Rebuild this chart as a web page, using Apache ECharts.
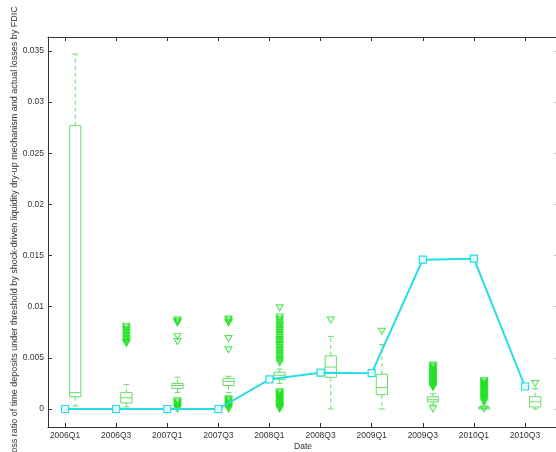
<!DOCTYPE html>
<html><head><meta charset="utf-8">
<script src="https://cdn.jsdelivr.net/npm/echarts@6/dist/echarts.min.js"></script>
<style>html,body{margin:0;padding:0;background:#fff}#c{width:556px;height:452px}</style>
</head><body><div id="c"></div>
<script>
// ---- data ----
const categories = ['2006Q1','2006Q3','2007Q1','2007Q3','2008Q1','2008Q3','2009Q1','2009Q3','2010Q1','2010Q3'];
const yTickValues = [0, 0.005, 0.01, 0.015, 0.02, 0.025, 0.03, 0.035];

// actual losses by FDIC (line)
const fdicLoss = [0, 0, 0, 0, 0.0029, 0.00355, 0.0035, 0.0146, 0.0147, 0.0022];

// box statistics (simulated loss ratio)
const whiskerLow  = [0.0003, 0.0002, 0.0016, 0.0016, 0.0025, 0.0000, 0.0000, 0.0004, 0.0000, 0.0000];
const quartile1   = [0.0012, 0.0006, 0.0020, 0.0023, 0.0029, 0.0031, 0.0014, 0.0007, 0.0000, 0.0002];
const medianVal   = [0.0016, 0.0011, 0.0023, 0.0027, 0.0033, 0.0041, 0.0021, 0.0009, 0.0001, 0.0007];
const quartile3   = [0.0277, 0.0016, 0.0025, 0.0030, 0.0036, 0.0052, 0.0034, 0.0012, 0.0002, 0.0012];
const whiskerHigh = [0.0347, 0.0024, 0.0031, 0.0032, 0.0039, 0.0071, 0.0063, 0.0015, 0.0005, 0.0020];

const outliers = [
  [],
  [0.0081,0.0080,0.0078,0.0077,0.0075,0.0074,0.0072,0.0071,0.0069,0.0068,0.0066,0.0065,0.0064],
  [0.0087,0.0086,0.0085,0.0084,0.0071,0.0066,
   0.0008,0.0007,0.0006,0.0005,0.0004,0.0003,0.0002,0.0001,0.0000],
  [0.0088,0.0087,0.0085,0.0084,0.0069,0.0058,
   0.0010,0.0009,0.0008,0.0007,0.0006,0.0005,0.0004,0.0003,0.0002,0.0001,0.0000],
  [0.0099,0.0090,0.0088,0.0087,0.0085,0.0083,0.0082,0.0080,0.0078,0.0077,0.0075,0.0073,0.0072,0.0070,
   0.0068,0.0067,0.0065,0.0063,0.0062,0.0060,0.0058,0.0057,0.0055,0.0053,0.0052,0.0050,0.0048,0.0047,0.0045,
   0.0017,0.0016,0.0015,0.0014,0.0013,0.0012,0.0011,0.0010,0.0009,0.0008,0.0007,0.0006,0.0005,0.0004,
   0.0003,0.0002,0.0001,0.0000],
  [0.0087],
  [0.0076],
  [0.0043,0.0042,0.0041,0.0040,0.0039,0.0038,0.0037,0.0036,0.0035,0.0034,0.0033,0.0032,0.0031,0.0030,
   0.0029,0.0028,0.0027,0.0026,0.0025,0.0024,0.0023,0.0022,0.0021,0.0000],
  [0.0028,0.0027,0.0026,0.0025,0.0024,0.0023,0.0022,0.0021,0.0020,0.0019,0.0018,0.0017,0.0016,0.0015,
   0.0014,0.0013,0.0012,0.0011,0.0010,0.0009,0.0008,0.0007,0.0000],
  [0.0025]
];

// ---- layout / style constants ----
const X_MIN = 0.667, X_MAX = 10.646;
const Y_MIN = -0.00176, Y_MAX = 0.03637;
const BOX_OFFSET = 0.2, BOX_WIDTH = 0.22;
const BOX_COLOR = '#66de66', OUT_COLOR = '#1ee01e', LINE_COLOR = '#25dde3';
const FONT = "'Liberation Sans', Arial, sans-serif";
const AX = '#333';

const tickPositions = categories.map((c, i) => i + 1);
const boxData = categories.map((c, i) => [i + 1 + BOX_OFFSET, whiskerLow[i], quartile1[i], medianVal[i], quartile3[i], whiskerHigh[i]]);
const outlierData = [];
outliers.forEach((arr, i) => arr.forEach(v => outlierData.push([i + 1 + BOX_OFFSET, v])));
const lineData = fdicLoss.map((v, i) => [i + 1, v]);

const chart = echarts.init(document.getElementById('c'), null, {renderer: 'canvas'});
const fmtY = v => String(+v.toFixed(3));

chart.setOption({
  animation: false,
  backgroundColor: '#fff',
  textStyle: {fontFamily: FONT},
  grid: {left: 48, right: -2, top: 37, bottom: 25, containLabel: false, outerBoundsMode: 'none'},
  xAxis: [{
    type: 'value', position: 'bottom', min: X_MIN, max: X_MAX,
    axisLine: {show: true, onZero: false, lineStyle: {color: AX, width: 1}},
    axisTick: {show: true, inside: true, length: 4, customValues: tickPositions, lineStyle: {color: AX}},
    axisLabel: {customValues: tickPositions, formatter: v => categories[Math.round(v) - 1] || '',
      fontSize: 8.5, color: AX, margin: 4, fontFamily: FONT},
    splitLine: {show: false},
    name: 'Date', nameLocation: 'middle', nameGap: 15, nameMoveOverlap: false,
    nameTextStyle: {fontSize: 8.5, color: AX, fontFamily: FONT}
  }, {
    type: 'value', position: 'top', min: X_MIN, max: X_MAX,
    axisLine: {show: true, onZero: false, lineStyle: {color: AX, width: 1}},
    axisTick: {show: true, inside: true, length: 4, customValues: tickPositions, lineStyle: {color: AX}},
    axisLabel: {show: false}, splitLine: {show: false}
  }],
  yAxis: [{
    type: 'value', position: 'left', min: Y_MIN, max: Y_MAX,
    axisLine: {show: true, onZero: false, lineStyle: {color: AX, width: 1}},
    axisTick: {show: true, inside: true, length: 4, customValues: yTickValues, lineStyle: {color: AX}},
    axisLabel: {customValues: yTickValues, formatter: fmtY, fontSize: 8.5, color: AX, margin: 4, fontFamily: FONT},
    splitLine: {show: false},
    name: 'Loss ratio of time deposits under threshold by shock-driven liquidity dry-up mechanism and actual losses by FDIC',
    nameLocation: 'middle', nameGap: 29, nameMoveOverlap: false,
    nameTextStyle: {fontSize: 9.0, color: AX, fontFamily: FONT}
  }, {
    type: 'value', position: 'right', min: Y_MIN, max: Y_MAX,
    axisLine: {show: true, onZero: false, lineStyle: {color: AX, width: 1}},
    axisTick: {show: true, inside: true, length: 4, customValues: yTickValues, lineStyle: {color: '#bbb'}},
    axisLabel: {show: false}, splitLine: {show: false}
  }],
  series: [{
    type: 'custom', xAxisIndex: 0, yAxisIndex: 0, z: 2,
    data: boxData,
    encode: {x: 0, y: [1, 2, 3, 4, 5]},
    renderItem: function (params, api) {
      const x = api.value(0), wl = api.value(1), q1 = api.value(2), md = api.value(3), q3 = api.value(4), wh = api.value(5);
      const hw = BOX_WIDTH / 2, cw = BOX_WIDTH / 4;
      const p = (a, b) => api.coord([a, b]);
      const tl = p(x - hw, q3), br = p(x + hw, q1);
      const solid = {stroke: BOX_COLOR, fill: null, lineWidth: 1};
      const dashed = {stroke: BOX_COLOR, fill: null, lineWidth: 1, lineDash: [4, 3]};
      const ln = (a, b, st) => ({type: 'line', shape: {x1: a[0], y1: a[1], x2: b[0], y2: b[1]}, style: st});
      return {type: 'group', children: [
        ln(p(x, q3), p(x, wh), dashed),
        ln(p(x, q1), p(x, wl), dashed),
        ln(p(x - cw, wh), p(x + cw, wh), solid),
        ln(p(x - cw, wl), p(x + cw, wl), solid),
        {type: 'rect', shape: {x: tl[0], y: tl[1], width: br[0] - tl[0], height: br[1] - tl[1]}, style: solid},
        ln(p(x - hw, md), p(x + hw, md), solid)
      ]};
    }
  }, {
    type: 'scatter', xAxisIndex: 0, yAxisIndex: 0, z: 3,
    data: outlierData,
    symbol: 'triangle', symbolRotate: 180, symbolSize: [7, 6],
    itemStyle: {color: 'rgba(0,0,0,0)', borderColor: OUT_COLOR, borderWidth: 1}
  }, {
    type: 'line', xAxisIndex: 0, yAxisIndex: 0, z: 4,
    data: lineData,
    symbol: 'rect', symbolSize: 7, showAllSymbol: true,
    lineStyle: {color: LINE_COLOR, width: 2},
    itemStyle: {color: '#e8fbfc', borderColor: LINE_COLOR, borderWidth: 1.2}
  }]
});
</script>
</body></html>
